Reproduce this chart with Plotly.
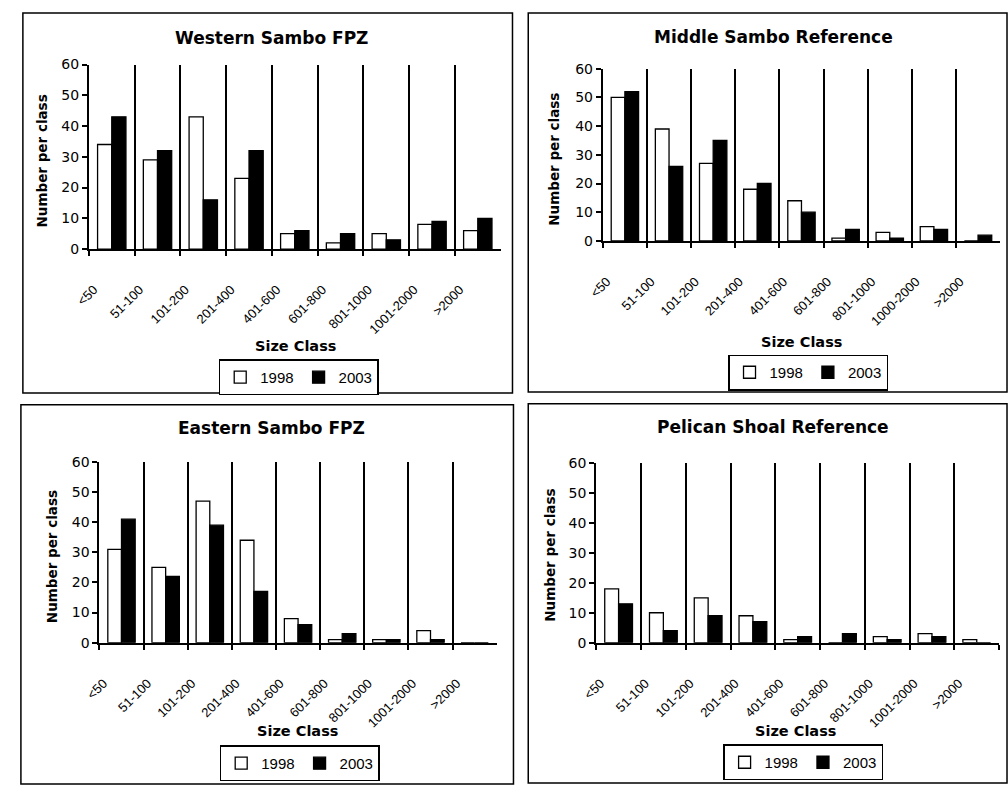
import plotly.graph_objects as go

# ---------------- data ----------------
categories = ["<50", "51-100", "101-200", "201-400", "401-600",
              "601-800", "801-1000", "1001-2000", ">2000"]
categories_middle = ["<50", "51-100", "101-200", "201-400", "401-600",
                     "601-800", "801-1000", "1000-2000", ">2000"]

western_1998 = [34, 29, 43, 23, 5, 2, 5, 8, 6]
western_2003 = [43, 32, 16, 32, 6, 5, 3, 9, 10]
middle_1998 = [50, 39, 27, 18, 14, 1, 3, 5, 0]
middle_2003 = [52, 26, 35, 20, 10, 4, 1, 4, 2]
eastern_1998 = [31, 25, 47, 34, 8, 1, 1, 4, 0]
eastern_2003 = [41, 22, 39, 17, 6, 3, 1, 1, 0]
pelican_1998 = [18, 10, 15, 9, 1, 0, 2, 3, 1]
pelican_2003 = [13, 4, 9, 7, 2, 3, 1, 2, 0]

titles = ["Western Sambo FPZ", "Middle Sambo Reference",
          "Eastern Sambo FPZ", "Pelican Shoal Reference"]
series_names = ["1998", "2003"]
y_title = "Number per class"
x_title = "Size Class"

# ---------------- layout helpers (pixel -> paper) ----------------
W, H = 1008, 794


def fx(px):
    return px / W


def fy(py):
    return 1 - py / H


BOLD = "DejaVu Sans"
REG = "Liberation Sans, Arial, sans-serif"

panels = [
    dict(title=titles[0], cats=categories, a=western_1998, b=western_2003,
         plot=(75, 57.7, 493, 246), box=(8, 5, 505, 393),
         t=(260, 31), leg=(288, 377), yt=(27, 156), xt=(285, 345)),
    dict(title=titles[1], cats=categories_middle, a=middle_1998, b=middle_2003,
         plot=(596.7, 62, 1000, 237.7), box=(521, 5, 1007, 392),
         t=(770, 30), leg=(805, 372), yt=(547, 154), xt=(798, 341)),
    dict(title=titles[2], cats=categories, a=eastern_1998, b=eastern_2003,
         plot=(85.7, 463.3, 489, 647.7), box=(6, 405, 506, 792),
         t=(260, 429), leg=(289, 771), yt=(37, 560), xt=(287, 738)),
    dict(title=titles[3], cats=categories, a=pelican_1998, b=pelican_2003,
         plot=(590, 464.7, 999, 647.7), box=(521, 404, 1007, 791),
         t=(769, 428), leg=(800, 770), yt=(543, 558), xt=(792, 738)),
]

fig = go.Figure()
layout = dict(
    width=W, height=H,
    margin=dict(l=0, r=0, t=0, b=0),
    paper_bgcolor="white", plot_bgcolor="white",
    barmode="group", bargap=0.38, bargroupgap=0.0,
    annotations=[], shapes=[],
)

for i, p in enumerate(panels):
    n = i + 1
    sfx = "" if n == 1 else str(n)
    leg = "legend" + sfx
    xa, ya = "x" + sfx, "y" + sfx
    fig.add_trace(go.Bar(
        x=p["cats"], y=p["a"], name=series_names[0], xaxis=xa, yaxis=ya,
        legend=leg, marker=dict(color="white", line=dict(color="black", width=1.3)),
    ))
    fig.add_trace(go.Bar(
        x=p["cats"], y=p["b"], name=series_names[1], xaxis=xa, yaxis=ya,
        legend=leg, marker=dict(color="black", line=dict(color="black", width=1.3)),
    ))
    x0, y0, x1, y1 = p["plot"]
    layout["xaxis" + sfx] = dict(
        domain=[fx(x0), fx(x1)], anchor=ya, type="category",
        categoryorder="array", categoryarray=p["cats"],
        range=[-0.5, 8.5],
        tickson="boundaries", ticks="outside", ticklen=5, tickwidth=1.5,
        tickcolor="black",
        showgrid=True, gridcolor="black", gridwidth=1.8,
        showline=True, linecolor="black", linewidth=2,
        tickangle=-45, tickfont=dict(family=REG, size=13, color="black"),
        ticklabelshift=-18, ticklabelstandoff=26,
        fixedrange=True,
    )
    layout["yaxis" + sfx] = dict(
        domain=[fy(y1), fy(y0)], anchor=xa, range=[0, 60], dtick=10,
        ticks="outside", ticklen=5, tickwidth=1.5, tickcolor="black",
        showline=True, linecolor="black", linewidth=2,
        showgrid=False, zeroline=False,
        tickfont=dict(family="DejaVu Sans", size=14, color="black"),
        fixedrange=True,
    )
    layout[leg] = dict(
        x=fx(p["leg"][0]), y=fy(p["leg"][1]), xanchor="center", yanchor="middle",
        orientation="h", bordercolor="black", borderwidth=1.5, bgcolor="white",
        font=dict(family=REG, size=15, color="black"),
        itemwidth=30, tracegroupgap=0, itemclick=False, itemdoubleclick=False,
    )
    # panel frame
    bx0, by0, bx1, by1 = p["box"]
    layout["shapes"].append(dict(
        type="rect", xref="paper", yref="paper",
        x0=fx(bx0), x1=fx(bx1), y0=fy(by1), y1=fy(by0),
        line=dict(color="black", width=1.5), fillcolor="rgba(0,0,0,0)",
        layer="below",
    ))
    # texts
    layout["annotations"].append(dict(
        text=p["title"], x=fx(p["t"][0]), y=fy(p["t"][1]),
        xref="paper", yref="paper", showarrow=False,
        xanchor="center", yanchor="middle",
        font=dict(family=BOLD, size=17, color="black", weight="bold"),
    ))
    layout["annotations"].append(dict(
        text=y_title, x=fx(p["yt"][0]), y=fy(p["yt"][1]),
        xref="paper", yref="paper", showarrow=False, textangle=-90,
        xanchor="center", yanchor="middle",
        font=dict(family=BOLD, size=13.5, color="black", weight="bold"),
    ))
    layout["annotations"].append(dict(
        text=x_title, x=fx(p["xt"][0]), y=fy(p["xt"][1]),
        xref="paper", yref="paper", showarrow=False,
        xanchor="center", yanchor="middle",
        font=dict(family=BOLD, size=14.5, color="black", weight="bold"),
    ))

fig.update_layout(**layout)
fig.write_html(
    "out.html",
    config={"displayModeBar": False},
    post_script="document.body.style.margin='0';document.body.style.overflow='hidden';",
)
